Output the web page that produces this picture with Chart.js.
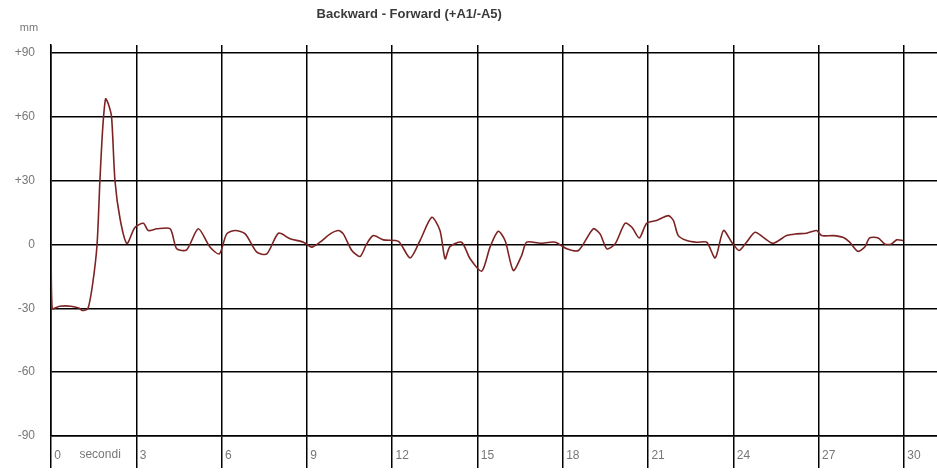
<!DOCTYPE html>
<html lang="en">
    <head>
        <meta charset="UTF-8"/>
        <script src="https://cdn.jsdelivr.net/npm/chart.js@4.4.0/dist/chart.umd.min.js"></script>
        <title>Backward - Forward (+A1/-A5)</title>
        <style>
            html, body { margin: 0; padding: 0; background: #fff; }
            #wrap { width: 937px; height: 474px; }
        </style>
    </head>
    <body>
        <div id="wrap"><canvas id="chart"></canvas></div>

        <script>
            const chartTitle = 'Backward - Forward (+A1/-A5)';
            const yUnit = 'mm';
            const xUnit = 'secondi';

            // time (s) and displacement (mm)
            const seconds = [0, 0.04, 0.3, 0.7, 1.0, 1.1, 1.3, 1.47, 1.62, 1.72, 1.82, 1.92, 2.02, 2.13, 2.25, 2.43, 2.67, 2.95, 3.25,
                3.42, 3.72, 4.19, 4.42, 4.77, 5.18, 5.59, 5.92, 6.18, 6.48, 6.83, 7.24, 7.59, 8.0, 8.41, 8.88, 9.17, 9.46,
                9.82, 10.11, 10.28, 10.58, 10.87, 11.1, 11.33, 11.69, 12.22, 12.63, 12.98, 13.39, 13.68, 13.86, 14.03, 14.44,
                14.74, 15.15, 15.44, 15.73, 15.97, 16.26, 16.55, 16.73, 17.2, 17.73, 18.14, 18.55, 19.07, 19.31, 19.55,
                19.84, 20.19, 20.43, 20.69, 20.95, 21.3, 21.71, 21.89, 22.06, 22.36, 22.71, 23.06, 23.36, 23.65, 23.94,
                24.2, 24.46, 24.76, 25.05, 25.4, 25.87, 26.22, 26.57, 26.92, 27.1, 27.5, 27.85, 28.09, 28.38, 28.62,
                28.79, 29.09, 29.32, 29.56, 29.74, 29.97];
            const mm = [0, -30, -29, -29, -30, -31, -30, -18, 0, 30, 55, 68.5, 66, 60, 30, 12, 0.5, 8, 10,
                6.6, 7.4, 7.4, -2, -2.5, 7.4, -1.2, -4.4, 5, 6.6, 5, -3.6, -4.4, 5.3, 2.7, 1.1, -1.2, 1.1,
                5, 6.6, 5, -2.8, -5.6, 0.3, 4.2, 2.2, 1.5, -6.3, 1.9, 12.8, 6.6, -6.7, -1, 1.1,
                -6.7, -12.5, -1.2, 6.2, 1.9, -12.2, -5.2, 1.1, 0.6, 1.1, -2, -2.8, 7.4, 5, -2,
                0.3, 10, 8.1, 3.1, 10, 11.3, 13.6, 11.3, 4.2, 1.9, 1.1, 1.1, -6.3, 6.6, 1.1,
                -2.8, 1.1, 5.8, 3.4, 0.6, 4.2, 5, 5.3, 6.6, 4.2, 4.2, 3.4, 1.1, -3.2, -1.2,
                3.1, 3.1, 0.3, 0.3, 2.2, 1.9];
            const yTicks = [90, 60, 30, 0, -30, -60, -90];

            const points = seconds.map((t, i) => ({x: t, y: mm[i]}));
            const font = {family: 'Liberation Sans, Arial, sans-serif', size: 12};

            const textPlugin = {
                id: 'texts',
                afterDraw(chart) {
                    const ctx = chart.ctx;
                    const xs = chart.scales.x;
                    ctx.save();
                    ctx.textBaseline = 'middle';
                    ctx.font = 'bold 13px Liberation Sans, Arial, sans-serif';
                    ctx.fillStyle = '#3a3a3a';
                    ctx.textAlign = 'center';
                    ctx.fillText(chartTitle, xs.getPixelForValue(12.6), 14);
                    ctx.font = '11px Liberation Sans, Arial, sans-serif';
                    ctx.fillStyle = '#777';
                    ctx.fillText(yUnit, 29, 28);
                    ctx.font = '12px Liberation Sans, Arial, sans-serif';
                    ctx.textAlign = 'left';
                    ctx.fillText(xUnit, xs.getPixelForValue(1.0), 455);
                    ctx.restore();
                }
            };

            new Chart(document.getElementById('chart'), {
                type: 'line',
                data: {
                    datasets: [{
                        data: points,
                        borderColor: 'rgb(125, 35, 35)',
                        borderWidth: 1.6,
                        pointRadius: 0,
                        tension: 0.25
                    }]
                },
                options: {
                    responsive: true,
                    maintainAspectRatio: false,
                    animation: false,
                    layout: {padding: {top: 45, right: 0, bottom: 0, left: 0}},
                    plugins: {legend: {display: false}, tooltip: {enabled: false}},
                    scales: {
                        x: {
                            type: 'linear',
                            min: 0,
                            max: 31.16,
                            afterFit: s => { s.height = 38; },
                            grid: {color: '#000', lineWidth: 1.5, tickLength: 32, tickColor: '#000'},
                            border: {color: '#000', width: 1.5},
                            ticks: {
                                stepSize: 3,
                                includeBounds: false,
                                align: 'start',
                                padding: -20,
                                maxRotation: 0,
                                color: '#777',
                                font: font,
                                callback: v => ' ' + v
                            }
                        },
                        y: {
                            min: -90,
                            max: 93.8,
                            afterFit: s => { s.width = 51; },
                            afterBuildTicks: s => { s.ticks = yTicks.map(v => ({value: v})); },
                            grid: {color: '#000', lineWidth: 1.5, drawTicks: false},
                            border: {color: '#000', width: 1.5},
                            ticks: {
                                padding: 16,
                                color: '#777',
                                font: font,
                                callback: v => (v > 0 ? '+' + v : '' + v)
                            }
                        }
                    }
                },
                plugins: [textPlugin]
            });
        </script>
    </body>
</html>
